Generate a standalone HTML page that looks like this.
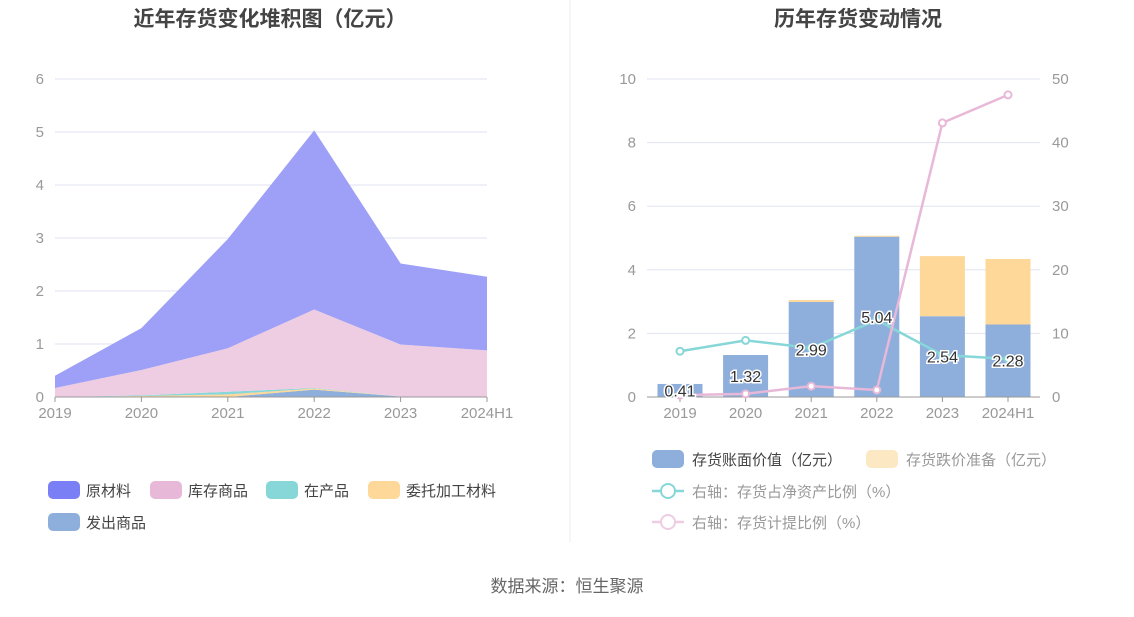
<!DOCTYPE html>
<html><head><meta charset="utf-8"><style>
body{margin:0;background:#fff;font-family:"Liberation Sans","Noto Sans CJK SC",sans-serif;}
svg text{font-family:"Liberation Sans","Noto Sans CJK SC",sans-serif;}
</style></head><body>
<svg id="c" width="1134" height="612" xmlns="http://www.w3.org/2000/svg">
<text x="270" y="26" text-anchor="middle" font-size="21" font-weight="bold" fill="#444">近年存货变化堆积图（亿元）</text>
<text x="858" y="26" text-anchor="middle" font-size="21" font-weight="bold" fill="#444">历年存货变动情况</text>
<line x1="570" y1="0" x2="570" y2="542" stroke="#eee"/>
<text x="567" y="592" text-anchor="middle" font-size="17" fill="#666">数据来源：恒生聚源</text>
<g id="L"></g><g id="R"></g>
</svg>
<script>
const cats=["2019","2020","2021","2022","2023","2024H1"];
const rawMat=[0.23,0.79,2.06,3.38,1.53,1.39];
const stock=[0.17,0.48,0.82,1.48,0.98,0.88];
const wip=[0,0.01,0.05,0.01,0,0];
const consign=[0,0.02,0.05,0.02,0,0];
const shipped=[0,0,0,0.14,0.01,0];
const leftTicks=[0,1,2,3,4,5,6];
const bookVal=[0.41,1.32,2.99,5.04,2.54,2.28];
const impair=[0,0,0.06,0.03,1.89,2.06];
const ratioNet=[7.2,8.9,7.7,12.1,6.6,6.0];
const ratioProv=[0.3,0.5,1.7,1.1,43.1,47.5];
const rightTicksL=[0,2,4,6,8,10];
const rightTicksR=[0,10,20,30,40,50];
const NS="http://www.w3.org/2000/svg";
function mk(p,t,a,txt){const e=document.createElementNS(NS,t);for(const k in a)e.setAttribute(k,a[k]);if(txt!==undefined)e.textContent=txt;p.appendChild(e);return e;}
// left
const L=document.getElementById('L');
const lx=i=>55+i*86.4, ly=v=>397-v*53;
leftTicks.forEach(t=>{const g=mk(L,'line',{x1:55,x2:487,y1:ly(t),y2:ly(t),stroke:t?'#e0e3f0':'#999'});

const tx=mk(L,'text',{x:44,y:ly(t)+5,'text-anchor':'end','font-size':15,fill:'#999'},t);
});
cats.forEach((c,i)=>{const tx=mk(L,'text',{x:lx(i),y:418,'text-anchor':'middle','font-size':15,fill:'#999'},c);

mk(L,'line',{x1:lx(i),x2:lx(i),y1:397,y2:402,stroke:'#999'});});
const series=[[shipped,'#8eaedc','shipped-area'],[consign,'#fdd898','consign-area'],[wip,'#87d6d8','wip-area'],[stock,'#eecde2','stock-area'],[rawMat,'#9da0f6','raw-material-area']];
let base=cats.map(()=>0);
series.forEach(([arr,col,nm])=>{const top=base.map((b,i)=>b+arr[i]);
let d=top.map((v,i)=>(i?'L':'M')+lx(i)+','+ly(v)).join('');
for(let i=cats.length-1;i>=0;i--)d+='L'+lx(i)+','+ly(base[i]);
const p=mk(L,'path',{d:d+'Z',fill:col});base=top;});
mk(L,'line',{x1:55,x2:487,y1:397,y2:397,stroke:'#999'});
const lleg=[['原材料','#7b7ff5',48,490],['库存商品','#e8b8d8',150,490],['在产品','#87d6d8',266,490],['委托加工材料','#fdd898',368,490],['发出商品','#8eaedc',48,522]];
lleg.forEach(([t,c,x,y])=>{const r=mk(L,'rect',{x:x,y:y-9,width:32,height:18,rx:5,fill:c});

mk(L,'text',{x:x+38,y:y+6,'font-size':15,fill:'#444'},t);});
// right
const R=document.getElementById('R');
const rx=i=>680+i*65.6, ry=v=>397-v*31.8, ry2=v=>397-v*6.36;
rightTicksL.forEach((t,k)=>{const g=mk(R,'line',{x1:647,x2:1040,y1:ry(t),y2:ry(t),stroke:t?'#e0e3f0':'#999'});

mk(R,'text',{x:636,y:ry(t)+5,'text-anchor':'end','font-size':15,fill:'#999'},t);
mk(R,'text',{x:1052,y:ry2(rightTicksR[k])+5,'font-size':15,fill:'#999'},rightTicksR[k]);});
cats.forEach((c,i)=>{mk(R,'text',{x:rx(i),y:418,'text-anchor':'middle','font-size':15,fill:'#999'},c);
mk(R,'line',{x1:rx(i),x2:rx(i),y1:397,y2:402,stroke:'#999'});
const b=mk(R,'rect',{x:rx(i)-22.5,y:ry(bookVal[i]),width:45,height:bookVal[i]*31.8,fill:'#8eaedc'});

const b2=mk(R,'rect',{x:rx(i)-22.5,y:ry(bookVal[i]+impair[i]),width:45,height:impair[i]*31.8,fill:'#fdd898'});
});
mk(R,'line',{x1:647,x2:1040,y1:397,y2:397,stroke:'#999'});
[[ratioNet,'#87d6d8','line-net-asset-ratio',ry2],[ratioProv,'#e8b8d8','line-provision-ratio',ry2]].forEach(([arr,col,nm,f])=>{
const p=mk(R,'polyline',{points:arr.map((v,i)=>rx(i)+','+f(v)).join(' '),fill:'none',stroke:col,'stroke-width':2.5});

arr.forEach((v,i)=>{const c=mk(R,'circle',{cx:rx(i),cy:f(v),r:3.5,fill:'#fff',stroke:col,'stroke-width':2});
});});
cats.forEach((c,i)=>{const t=mk(R,'text',{x:rx(i),y:ry(bookVal[i]/2)+6,'text-anchor':'middle','font-size':16,fill:'#333',stroke:'#fff','stroke-width':3,'paint-order':'stroke'},bookVal[i].toFixed(2));
});
[['存货账面价值（亿元）','#8eaedc',652,459,'rect','#444'],['存货跌价准备（亿元）','#fde8c4',866,459,'rect','#999'],['右轴：存货占净资产比例（%）','#87d6d8',652,491,'line','#999'],['右轴：存货计提比例（%）','#eecde2',652,522,'line','#999']].forEach(([t,c,x,y,k,tc])=>{
if(k=='rect'){const r=mk(R,'rect',{x:x,y:y-9,width:32,height:18,rx:5,fill:c});}
else{mk(R,'line',{x1:x,x2:x+32,y1:y,y2:y,stroke:c,'stroke-width':2.5});const r=mk(R,'circle',{cx:x+16,cy:y,r:7,fill:'#fff',stroke:c,'stroke-width':2});}
mk(R,'text',{x:x+40,y:y+6,'font-size':15,fill:tc},t);});
</script>
</body></html>
